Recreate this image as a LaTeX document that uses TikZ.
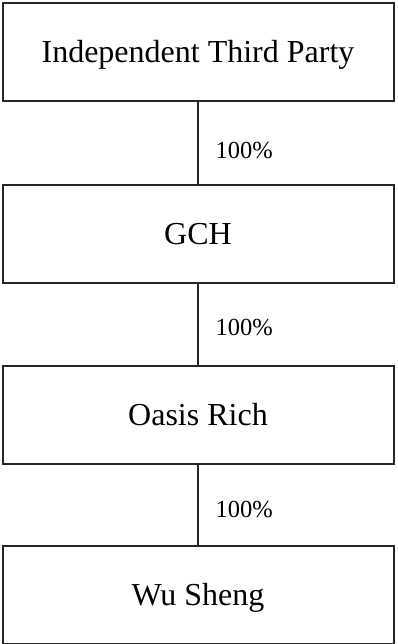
\documentclass[tikz,border=0pt]{standalone}
\usepackage{fontspec}
\setmainfont{Liberation Serif}
\begin{document}
\begin{tikzpicture}[x=1pt,y=-1pt,
  entity/.style={draw=black!85,line width=2pt,minimum width=391pt,minimum height=98pt,inner sep=0pt,
    font=\fontsize{32}{36}\selectfont,text height=21.5pt,text depth=0pt},
  share/.style={font=\fontsize{24.5}{28}\selectfont,anchor=base west,inner sep=0pt},
  link/.style={draw=black!85,line width=1.8pt}]
\useasboundingbox (0,0) rectangle (397,644);
\node[entity] (itp) at (198,51.8) {Independent Third Party};
\node[entity] (gch) at (198,234) {GCH};
\node[entity] (oasis) at (198,414.5) {Oasis Rich};
\node[entity] (wu) at (198,594.5) {Wu Sheng};
\draw[link] (itp) -- (gch);
\draw[link] (gch) -- (oasis);
\draw[link] (oasis) -- (wu);
\node[share] (p1) at (215.5,158.3) {100\%};
\node[share] (p2) at (215.5,335.7) {100\%};
\node[share] (p3) at (215.5,517.7) {100\%};
\end{tikzpicture}
\end{document}
